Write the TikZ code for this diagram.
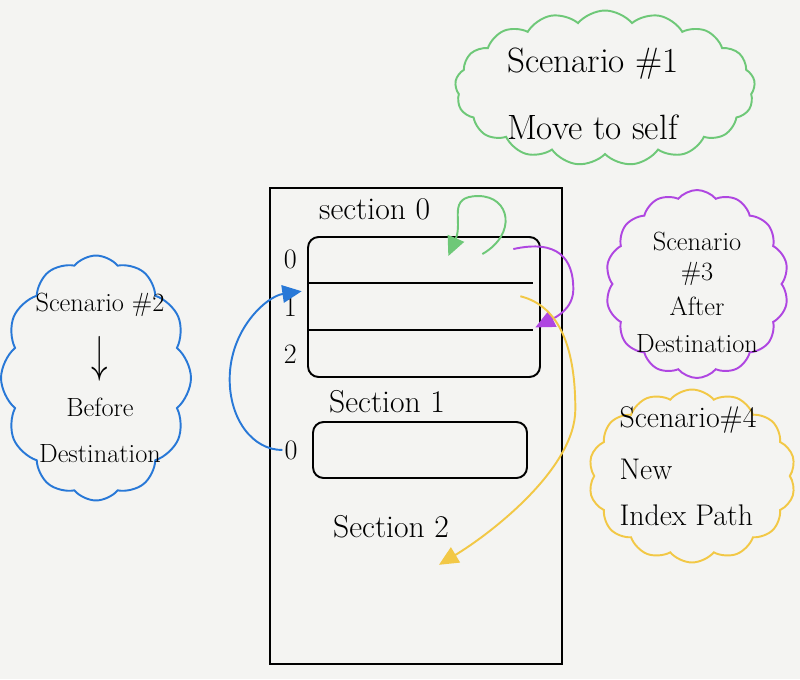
\documentclass[tikz,border=0pt]{standalone}
\usepackage{amsmath}
\usetikzlibrary{arrows.meta, positioning, shapes.symbols, calc}

\definecolor{paper}{RGB}{244,244,242}
\definecolor{cgreen}{RGB}{110,200,120}
\definecolor{cblue}{RGB}{40,120,215}
\definecolor{cpurple}{RGB}{175,70,225}
\definecolor{cyellow}{RGB}{242,200,70}

\begin{document}
\begin{tikzpicture}[x=0.02cm, y=-0.02cm,
    ink/.style={line width=1.1pt, black},
    handtext/.style={font=\fontsize{16}{19}\selectfont, inner sep=1pt},
    sectext/.style={font=\fontsize{18}{21}\selectfont, inner sep=1pt},
    tbl/.style={draw, line width=1.1pt, rounded corners=6pt},
    rowcell/.style={minimum width=4.64cm, minimum height=0.93cm, inner sep=0pt},
    bubble/.style={cloud, cloud puffs=#1, cloud puff arc=100, cloud ignores aspect,
                   draw, line width=1.1pt, inner sep=0pt},
    bubbletext/.style={align=center, inner sep=0pt},
    move/.style={line width=1.1pt, -{Triangle[length=11pt, width=10pt]}}]

    % paper
    \fill[paper] (0,0) rectangle (800,679);
    \useasboundingbox (0,0) rectangle (800,679);

    % phone frame
    \node[draw, line width=1.1pt, minimum width=5.84cm, minimum height=9.52cm] (phone) at (416,426) {};

    % section 0 table with three rows
    \node[tbl, minimum width=4.64cm, minimum height=2.8cm] (sec0) at (424,307) {};
    \node[rowcell, below=0pt of sec0.north] (s0r0) {};
    \node[rowcell, below=0pt of s0r0] (s0r1) {};
    \node[rowcell, below=0pt of s0r1] (s0r2) {};
    \draw[ink, shorten >=4pt] (s0r0.south west) -- (s0r0.south east);
    \draw[ink, shorten >=4pt] (s0r1.south west) -- (s0r1.south east);

    \node[handtext, left=5pt of s0r0] (s0n0) {0};
    \node[handtext, left=5pt of s0r1] (s0n1) {1};
    \node[handtext, left=5pt of s0r2] (s0n2) {2};
    \node[sectext, above right=0.28cm and 0.2cm of sec0.north west] (s0lbl) {section 0};

    % section 1 table
    \node[tbl, minimum width=4.28cm, minimum height=1.12cm] (sec1) at (420,450) {};
    \node[handtext, left=0.25cm of sec1] (s1n0) {0};
    \node[sectext, above right=0.12cm and 0.3cm of sec1.north west] (s1lbl) {Section 1};

    % section 2
    \node[sectext, below right=0.68cm and 0.38cm of sec1.south west] (s2lbl) {Section 2};

    % scenario clouds
    \node[bubble=17, draw=cgreen, minimum width=6cm, minimum height=3.1cm] (scn1) at (605,88) {};
    \node[bubbletext, align=left, font=\fontsize{20}{24}\selectfont] (scn1txt) at ($(scn1)+(-12,6)$)
          {Scenario \#1\\[14pt]Move to self};

    \node[bubble=12, draw=cblue, minimum width=3.8cm, minimum height=4.9cm] (scn2) at (96,378) {};
    \node[bubbletext, font=\fontsize{15}{18}\selectfont] (scn2txt) at ($(scn2)+(4,0)$)
          {Scenario \#2\\[10pt]\scalebox{1.3}[2]{$\downarrow$}\\[8pt]Before\\[8pt]Destination};

    \node[bubble=14, draw=cpurple, minimum width=3.66cm, minimum height=3.76cm] (scn3) at (697,284) {};
    \node[bubbletext, font=\fontsize{15}{17}\selectfont] (scn3txt) at ($(scn3)+(0,8)$)
          {Scenario\\\#3\\[3pt]After\\[4pt]Destination};

    \node[bubble=14, draw=cyellow, minimum width=4.14cm, minimum height=3.46cm] (scn4) at (692,476) {};
    \node[bubbletext, align=left, font=\fontsize{17}{20}\selectfont] (scn4txt) at ($(scn4)+(-4,-10)$)
          {Scenario\#4\\[10pt]New\\[6pt]Index Path};

    % move arrows
    \coordinate (g0) at ($(s0r0.north east)+(-58,18)$);
    \coordinate (g1) at ($(s0r0.north east)+(-92,20)$);
    \coordinate (p0) at ($(s0r0.north east)+(-27,13)$);
    \coordinate (p1) at ($(s0r1.south east)+(-5,-3)$);
    \coordinate (b1) at ($(s0r1.north west)+(-6,8)$);
    \coordinate (y0) at ($(s0r1.north east)+(-20,13)$);
    \coordinate (y1) at ($(s2lbl.south east)+(-12,25)$);

    \draw[move, cgreen] (g0) .. controls +(35,-20) and +(32,0) .. ($(g0)+(-4,-58)$)
        .. controls +(-32,0) and +(15,-35) .. (g1);
    \draw[move, cpurple] (p0) .. controls +(45,-10) and +(0,-30) .. ($(p0)+(60,40)$)
        .. controls +(0,20) and +(20,-10) .. (p1);
    \draw[move, cblue] (s1n0.west) .. controls +(-30,0) and +(0,40) .. ($(b1)+(-72,88)$)
        .. controls +(0,-50) and +(-35,5) .. (b1);
    \draw[move, cyellow] (y0) .. controls +(40,10) and +(0,-60) .. ($(y0)+(55,113)$)
        .. controls +(0,60) and +(50,-30) .. (y1);
\end{tikzpicture}
\end{document}
